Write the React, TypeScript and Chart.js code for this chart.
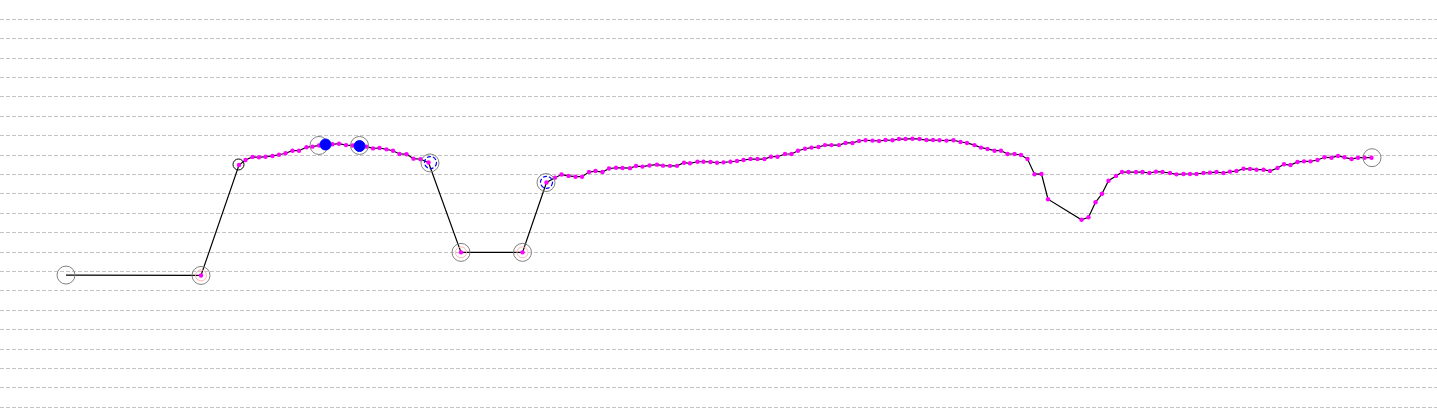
import React, { useEffect, useRef } from "react";
import { Chart, registerables } from "chart.js";

Chart.register(...registerables);

// Track: distance (km) and elevation (m)
const trackDist = [
  0, 2.70, 3.46, 3.59, 3.73, 3.86, 3.99, 4.13, 4.26, 4.39,
  4.53, 4.66, 4.81, 4.93, 5.06, 5.19, 5.33, 5.46, 5.60, 5.73,
  5.87, 6.01, 6.14, 6.27, 6.41, 6.54, 6.67, 6.81, 6.95, 7.09,
  7.25, 7.90, 9.13, 9.61, 9.78, 9.91, 10.05, 10.19, 10.32, 10.46,
  10.59, 10.73, 10.86, 11.00, 11.13, 11.28, 11.40, 11.53, 11.67, 11.82,
  11.94, 12.08, 12.22, 12.36, 12.48, 12.63, 12.75, 12.89, 13.02, 13.15,
  13.29, 13.42, 13.55, 13.69, 13.83, 13.97, 14.10, 14.23, 14.38, 14.51,
  14.64, 14.78, 14.91, 15.05, 15.18, 15.31, 15.46, 15.59, 15.73, 15.86,
  15.99, 16.13, 16.26, 16.39, 16.53, 16.66, 16.79, 16.93, 17.07, 17.21,
  17.34, 17.47, 17.61, 17.75, 17.89, 18.02, 18.17, 18.30, 18.43, 18.57,
  18.70, 18.83, 18.97, 19.10, 19.23, 19.37, 19.51, 19.64, 20.31, 20.45,
  20.59, 20.72, 20.85, 21.00, 21.12, 21.25, 21.40, 21.53, 21.67, 21.80,
  21.93, 22.08, 22.21, 22.35, 22.48, 22.61, 22.75, 22.88, 23.01, 23.15,
  23.28, 23.41, 23.55, 23.68, 23.81, 23.95, 24.08, 24.23, 24.36, 24.49,
  24.63, 24.76, 24.89, 25.03, 25.17, 25.31, 25.44, 25.57, 25.71, 25.84,
  25.97, 26.11,
];

const trackElev = [
  68.2, 68.0, 124.9, 127.5, 129.1, 128.9, 129.2, 129.6, 130.2, 131.0,
  132.3, 132.3, 134.1, 134.4, 135.0, 135.5, 135.6, 135.9, 135.2, 135.0,
  134.7, 134.4, 133.5, 133.7, 133.0, 132.3, 130.6, 130.5, 128.2, 127.9,
  126.2, 79.9, 79.9, 115.9, 118.4, 120.0, 119.3, 118.9, 118.9, 121.3,
  121.8, 121.3, 123.1, 123.5, 123.4, 123.3, 124.4, 124.1, 124.7, 125.1,
  124.6, 124.5, 124.5, 126.1, 125.8, 126.6, 126.6, 126.5, 126.1, 126.3,
  126.6, 127.0, 127.5, 128.0, 128.0, 128.0, 129.2, 129.2, 130.6, 130.6,
  132.3, 133.3, 133.9, 134.2, 135.2, 135.2, 135.2, 136.3, 136.3, 137.3,
  137.7, 137.5, 137.3, 137.8, 137.7, 138.3, 138.3, 138.5, 138.3, 137.8,
  137.8, 137.7, 137.5, 137.7, 136.8, 136.3, 135.2, 133.9, 133.2, 132.3,
  132.3, 130.6, 130.6, 130.1, 128.0, 120.2, 120.3, 107.3, 96.7, 98.0,
  105.7, 110.1, 116.8, 119.3, 121.3, 121.3, 121.3, 121.3, 120.8, 121.5,
  121.3, 120.8, 120.1, 120.3, 120.3, 120.3, 120.8, 121.0, 121.3, 120.8,
  121.5, 121.8, 123.0, 122.9, 122.5, 122.5, 121.8, 123.4, 125.3, 124.9,
  126.5, 126.8, 126.8, 127.5, 128.9, 128.7, 129.6, 128.9, 128.0, 128.7,
  128.7, 128.7,
];

// Waypoints (grey rings)
const waypointDist = [0, 2.70, 5.06, 5.87, 7.28, 7.90, 9.13, 9.60, 26.12];
const waypointElev = [68.2, 68.0, 135.0, 135.0, 126.0, 79.9, 79.9, 115.9, 128.7];

// Pink rings
const pinkDist = [2.70, 7.90, 9.13];
const pinkElev = [68.0, 79.9, 79.9];

// Blue dashed rings
const blueRingDist = [7.29, 9.61];
const blueRingElev = [126.2, 116.0];

// Black ring
const blackRingDist = [3.45];
const blackRingElev = [125.2];

// Blue filled markers
const blueDotDist = [5.19, 5.87];
const blueDotElev = [135.5, 134.7];

const X_MIN = -1.32;
const X_MAX = 27.42;
const Y_MIN = -2.9;
const Y_MAX = 209.98;
const Y_STEP = 10;

const pts = (xs: number[], ys: number[]) => xs.map((x, i) => ({ x, y: ys[i] }));

const dashPlugin = {
  id: "ringDash",
  beforeDatasetDraw(chart: any, args: any) {
    const ds = chart.data.datasets[args.index];
    if (ds && ds.ringDash) chart.ctx.setLineDash(ds.ringDash);
  },
  afterDatasetDraw(chart: any) {
    chart.ctx.setLineDash([]);
  },
};

export default function App() {
  const ref = useRef<HTMLCanvasElement>(null);

  useEffect(() => {
    if (!ref.current) return;
    const chart = new Chart(ref.current, {
      type: "scatter",
      data: {
        datasets: [
          {
            label: "track",
            data: pts(trackDist, trackElev),
            showLine: true,
            borderColor: "#000000",
            borderWidth: 1.2,
            tension: 0,
            pointRadius: (c: any) => (c.dataIndex === 0 ? 0 : 2.2),
            pointBackgroundColor: "#ff00ff",
            pointBorderColor: "#ff00ff",
            pointBorderWidth: 0,
            order: 6,
          } as any,
          {
            label: "waypoints",
            data: pts(waypointDist, waypointElev),
            showLine: false,
            pointRadius: 9,
            pointBackgroundColor: "rgba(0,0,0,0)",
            pointBorderColor: "#808080",
            pointBorderWidth: 1,
            order: 5,
          },
          {
            label: "pink",
            data: pts(pinkDist, pinkElev),
            showLine: false,
            pointRadius: 5.5,
            pointBackgroundColor: "rgba(0,0,0,0)",
            pointBorderColor: "#ffb4b4",
            pointBorderWidth: 1,
            order: 4,
          },
          {
            label: "black",
            data: pts(blackRingDist, blackRingElev),
            showLine: false,
            pointRadius: 5.5,
            pointBackgroundColor: "rgba(0,0,0,0)",
            pointBorderColor: "#000000",
            pointBorderWidth: 1,
            order: 3,
          },
          {
            label: "blueRing",
            data: pts(blueRingDist, blueRingElev),
            showLine: false,
            pointRadius: 6,
            pointBackgroundColor: "rgba(0,0,0,0)",
            pointBorderColor: "#0000ff",
            pointBorderWidth: 1.2,
            ringDash: [4, 2],
            order: 2,
          } as any,
          {
            label: "blueDot",
            data: pts(blueDotDist, blueDotElev),
            showLine: false,
            pointRadius: 5.5,
            pointBackgroundColor: "#0000ff",
            pointBorderColor: "#0000ff",
            pointBorderWidth: 1,
            order: 1,
          },
        ],
      },
      options: {
        animation: false,
        responsive: false,
        events: [],
        layout: { padding: 0, autoPadding: false },
        plugins: {
          legend: { display: false },
          tooltip: { enabled: false },
        },
        scales: {
          x: {
            type: "linear",
            display: false,
            min: X_MIN,
            max: X_MAX,
          },
          y: {
            type: "linear",
            min: Y_MIN,
            max: Y_MAX,
            ticks: { display: false, stepSize: Y_STEP, includeBounds: false },
            grid: { color: "#c4c4c4", lineWidth: 1, drawTicks: false },
            border: { display: false, dash: [4, 2] },
          },
        },
      },
      plugins: [dashPlugin],
    } as any);
    return () => chart.destroy();
  }, []);

  return (
    <div style={{ position: "fixed", left: 0, top: 0, width: 1437, height: 413, background: "#fff" }}>
      <canvas ref={ref} width={1437} height={413} style={{ display: "block", width: 1437, height: 413 }} />
    </div>
  );
}
